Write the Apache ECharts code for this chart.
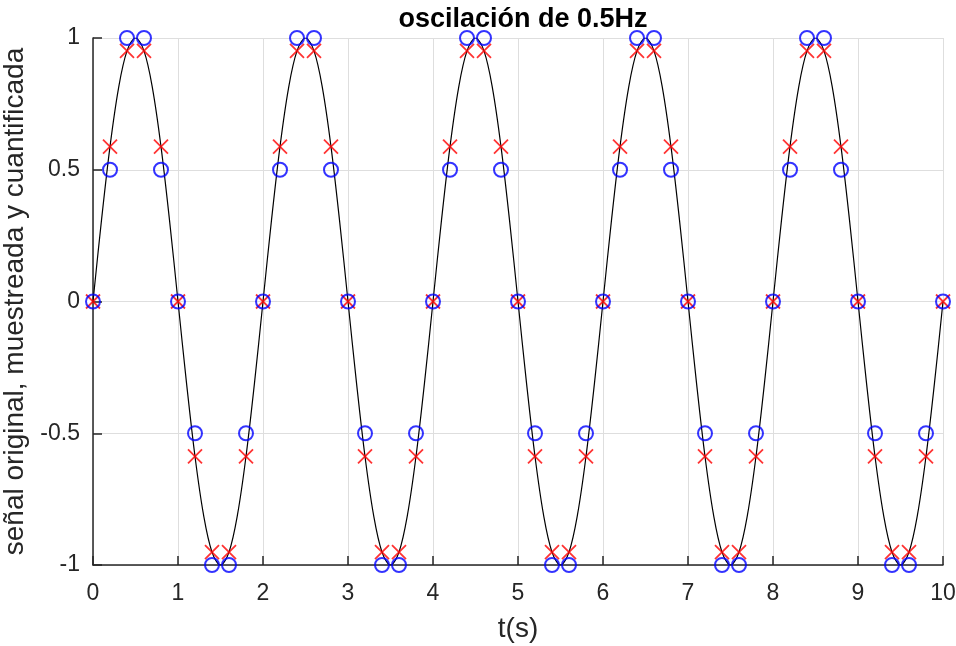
<!DOCTYPE html>
<html>
<head>
<meta charset="utf-8">
<script src="https://cdn.jsdelivr.net/npm/echarts@6/dist/echarts.min.js"></script>
<style>
  html, body { margin: 0; padding: 0; background: #fff; }
  #chart { width: 956px; height: 646px; }
</style>
</head>
<body>
<div id="chart"></div>
<script>
// instantes de muestreo (cada 0.2 s)
const tSamples = [
  0, 0.2, 0.4, 0.6, 0.8, 1, 1.2, 1.4, 1.6, 1.8,
  2, 2.2, 2.4, 2.6, 2.8, 3, 3.2, 3.4, 3.6, 3.8,
  4, 4.2, 4.4, 4.6, 4.8, 5, 5.2, 5.4, 5.6, 5.8,
  6, 6.2, 6.4, 6.6, 6.8, 7, 7.2, 7.4, 7.6, 7.8,
  8, 8.2, 8.4, 8.6, 8.8, 9, 9.2, 9.4, 9.6, 9.8, 10
]
// señal muestreada (x rojas)
const sampled = [
  0, 0.588, 0.951, 0.951, 0.588, 0, -0.588, -0.951, -0.951, -0.588,
  0, 0.588, 0.951, 0.951, 0.588, 0, -0.588, -0.951, -0.951, -0.588,
  0, 0.588, 0.951, 0.951, 0.588, 0, -0.588, -0.951, -0.951, -0.588,
  0, 0.588, 0.951, 0.951, 0.588, 0, -0.588, -0.951, -0.951, -0.588,
  0, 0.588, 0.951, 0.951, 0.588, 0, -0.588, -0.951, -0.951, -0.588, 0
]
// señal cuantificada (círculos azules)
const quantized = [
  0, 0.5, 1, 1, 0.5, 0, -0.5, -1, -1, -0.5,
  0, 0.5, 1, 1, 0.5, 0, -0.5, -1, -1, -0.5,
  0, 0.5, 1, 1, 0.5, 0, -0.5, -1, -1, -0.5,
  0, 0.5, 1, 1, 0.5, 0, -0.5, -1, -1, -0.5,
  0, 0.5, 1, 1, 0.5, 0, -0.5, -1, -1, -0.5, 0
]
// señal original (línea negra), cada 0.1 s
const tLine = [
  0, 0.1, 0.2, 0.3, 0.4, 0.5, 0.6, 0.7, 0.8, 0.9,
  1, 1.1, 1.2, 1.3, 1.4, 1.5, 1.6, 1.7, 1.8, 1.9,
  2, 2.1, 2.2, 2.3, 2.4, 2.5, 2.6, 2.7, 2.8, 2.9,
  3, 3.1, 3.2, 3.3, 3.4, 3.5, 3.6, 3.7, 3.8, 3.9,
  4, 4.1, 4.2, 4.3, 4.4, 4.5, 4.6, 4.7, 4.8, 4.9,
  5, 5.1, 5.2, 5.3, 5.4, 5.5, 5.6, 5.7, 5.8, 5.9,
  6, 6.1, 6.2, 6.3, 6.4, 6.5, 6.6, 6.7, 6.8, 6.9,
  7, 7.1, 7.2, 7.3, 7.4, 7.5, 7.6, 7.7, 7.8, 7.9,
  8, 8.1, 8.2, 8.3, 8.4, 8.5, 8.6, 8.7, 8.8, 8.9,
  9, 9.1, 9.2, 9.3, 9.4, 9.5, 9.6, 9.7, 9.8, 9.9, 10
]
const original = [
  0, 0.309, 0.588, 0.809, 0.951, 1, 0.951, 0.809, 0.588, 0.309,
  0, -0.309, -0.588, -0.809, -0.951, -1, -0.951, -0.809, -0.588, -0.309,
  0, 0.309, 0.588, 0.809, 0.951, 1, 0.951, 0.809, 0.588, 0.309,
  0, -0.309, -0.588, -0.809, -0.951, -1, -0.951, -0.809, -0.588, -0.309,
  0, 0.309, 0.588, 0.809, 0.951, 1, 0.951, 0.809, 0.588, 0.309,
  0, -0.309, -0.588, -0.809, -0.951, -1, -0.951, -0.809, -0.588, -0.309,
  0, 0.309, 0.588, 0.809, 0.951, 1, 0.951, 0.809, 0.588, 0.309,
  0, -0.309, -0.588, -0.809, -0.951, -1, -0.951, -0.809, -0.588, -0.309,
  0, 0.309, 0.588, 0.809, 0.951, 1, 0.951, 0.809, 0.588, 0.309,
  0, -0.309, -0.588, -0.809, -0.951, -1, -0.951, -0.809, -0.588, -0.309, 0
]

const font = 'Liberation Sans, Arial, Helvetica, sans-serif'
const axisColor = '#262626'

const chart = echarts.init(document.getElementById('chart'))

chart.setOption({
  animation: false,
  textStyle: { fontFamily: font },
  title: {
    text: 'oscilación de 0.5Hz',
    left: 518,
    top: 1,
    textAlign: 'center',
    textStyle: { fontFamily: font, fontSize: 27, fontWeight: 'bold', color: '#000' }
  },
  grid: { left: 93, right: 13, top: 38, bottom: 81, outerBoundsMode: 'none' },
  xAxis: {
    type: 'value',
    min: 0,
    max: 10,
    interval: 1,
    name: 't(s)',
    nameLocation: 'middle',
    nameGap: 50,
    nameTextStyle: { fontSize: 28, color: axisColor },
    axisLine: { onZero: false, lineStyle: { color: axisColor, width: 1.5 } },
    axisTick: { inside: true, length: 9, lineStyle: { color: axisColor, width: 1.5 } },
    axisLabel: { fontSize: 23, color: axisColor, margin: 17 },
    splitLine: { show: true, lineStyle: { color: '#dedede', width: 1 } }
  },
  yAxis: {
    type: 'value',
    min: -1,
    max: 1,
    interval: 0.5,
    name: 'señal original, muestreada y cuantificada',
    nameLocation: 'middle',
    nameGap: 58,
    nameTextStyle: { fontSize: 28, color: axisColor },
    axisLine: { onZero: false, lineStyle: { color: axisColor, width: 1.5 } },
    axisTick: { inside: true, length: 9, lineStyle: { color: axisColor, width: 1.5 } },
    axisLabel: { fontSize: 23, color: axisColor, margin: 13 },
    splitLine: { show: true, lineStyle: { color: '#dedede', width: 1 } }
  },
  series: [
    {
      name: 'original',
      type: 'line',
      data: tLine.map((t, i) => [t, original[i]]),
      smooth: 0.35,
      showSymbol: false,
      lineStyle: { color: '#000', width: 1.2 },
      z: 2
    },
    {
      name: 'muestreada',
      type: 'scatter',
      data: tSamples.map((t, i) => [t, sampled[i]]),
      symbol: 'path://M0,0L10,10M10,0L0,10',
      symbolSize: 14,
      clip: false,
      itemStyle: { color: 'none', borderColor: '#ff0000', borderWidth: 1.8 },
      z: 3
    },
    {
      name: 'cuantificada',
      type: 'scatter',
      data: tSamples.map((t, i) => [t, quantized[i]]),
      symbol: 'circle',
      symbolSize: 14,
      clip: false,
      itemStyle: { color: 'none', borderColor: '#0000ff', borderWidth: 2 },
      z: 4
    }
  ]
})
</script>
</body>
</html>
